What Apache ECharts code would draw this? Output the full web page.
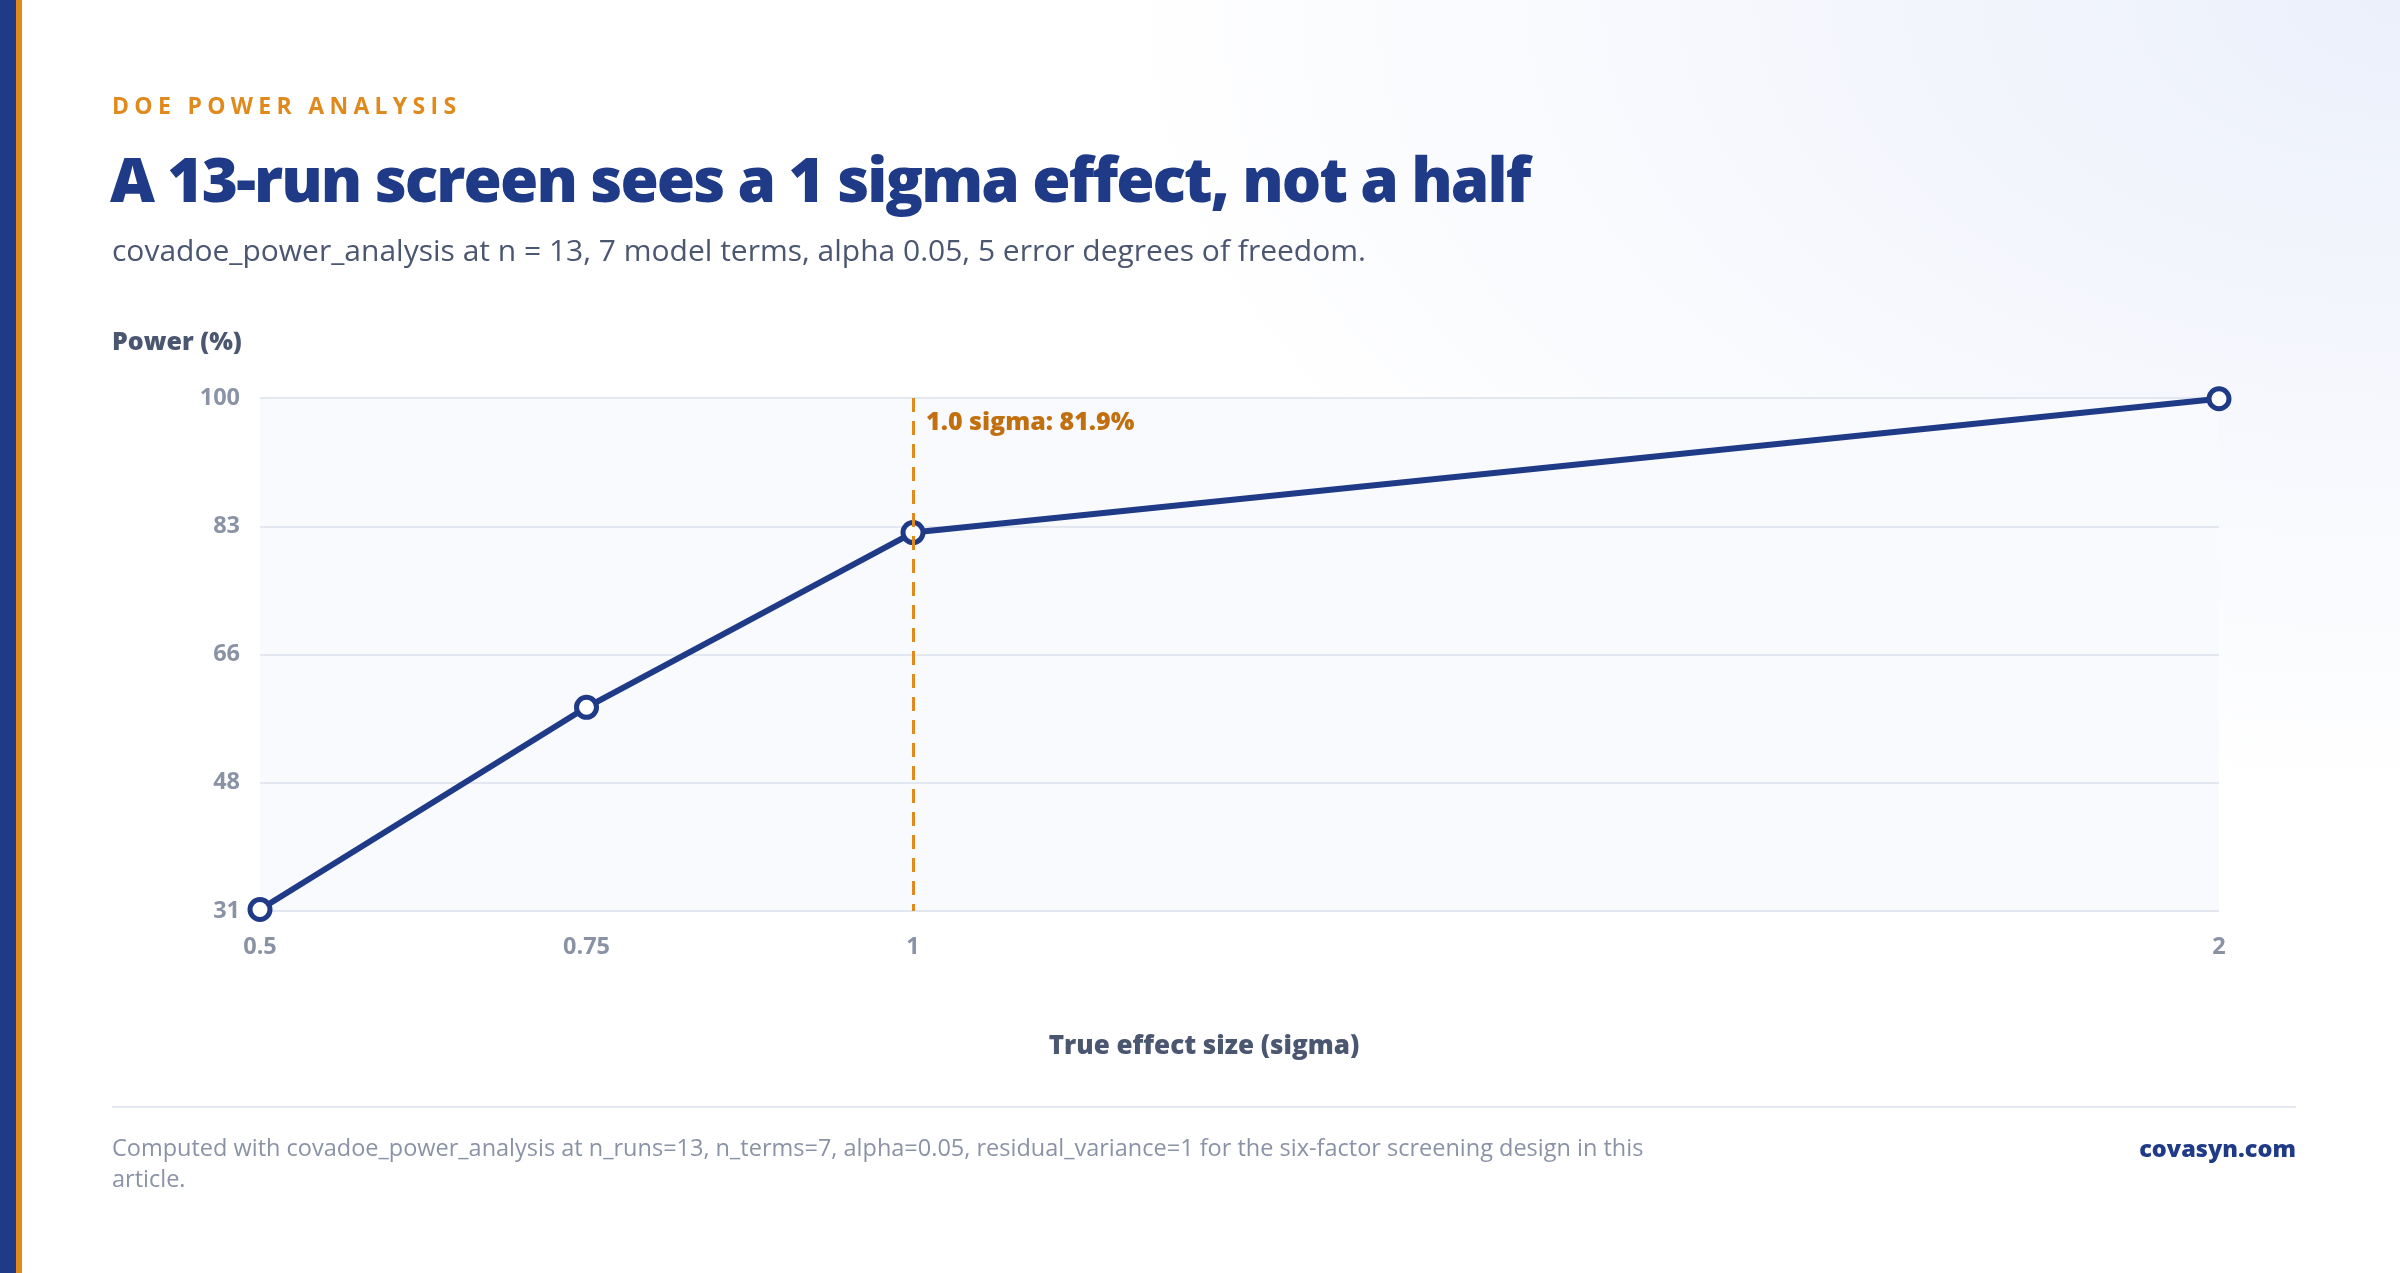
<!DOCTYPE html>
<html><head><meta charset="utf-8">
<script src="https://cdn.jsdelivr.net/npm/echarts@6/dist/echarts.min.js"></script>
<style>
html,body{margin:0;padding:0;width:2400px;height:1273px;overflow:hidden;background:#fff;font-family:"Open Sans","Noto Sans",sans-serif;}
#bg{position:absolute;left:0;top:0;width:2400px;height:1273px;background:radial-gradient(ellipse 1300px 800px at 2400px 0px,#ecf0fb 0%,rgba(255,255,255,0) 100%);}
.sb{position:absolute;left:0;top:0;width:16px;height:1273px;background:#1f3a87}
.so{position:absolute;left:16px;top:0;width:6px;height:1273px;background:#e08a1e}
#chart{position:absolute;left:0;top:0;width:2400px;height:1273px}
.t{position:absolute;white-space:nowrap;}
#eyebrow{left:112px;top:90px;font-size:23px;line-height:30px;font-weight:700;letter-spacing:5.3px;color:#e08a1e}
#title{left:110px;top:138px;font-size:62px;line-height:80px;font-weight:800;letter-spacing:-1.9px;color:#1f3a87}
#sub{left:112px;top:230px;font-size:30px;line-height:40px;color:#4b5670}
#ylab{left:112px;top:324px;font-size:25px;line-height:32px;font-weight:800;color:#4b5670}
#rule{position:absolute;left:112px;top:1106px;width:2184px;height:2px;background:#e3e8f0}
#foot{position:absolute;left:112px;top:1132px;width:1560px;font-size:23.5px;line-height:31px;color:#8a93a6}
#brand{right:104px;top:1132px;font-size:23.5px;line-height:32px;font-weight:800;color:#1f3a87}
</style></head>
<body>
<div id="bg"></div>
<div class="sb"></div><div class="so"></div>
<div id="chart"></div>
<div class="t" id="eyebrow">DOE POWER ANALYSIS</div>
<div class="t" id="title">A 13-run screen sees a 1 sigma effect, not a half</div>
<div class="t" id="sub">covadoe_power_analysis at n = 13, 7 model terms, alpha 0.05, 5 error degrees of freedom.</div>
<div class="t" id="ylab">Power (%)</div>
<div id="rule"></div>
<div id="foot">Computed with covadoe_power_analysis at n_runs=13, n_terms=7, alpha=0.05, residual_variance=1 for the six-factor screening design in this article.</div>
<div class="t" id="brand">covasyn.com</div>
<script>
// Data
const effectSizes = [0.5, 0.75, 1, 2];
const powerPct = [31.2, 58.4, 81.9, 99.9];
const xTickLabels = [0.5, 0.75, 1, 2];
const yMin = 31, yMax = 100, yStep = 17.25;
const highlightX = 1;
const highlightLabel = '1.0 sigma: 81.9%';
const xAxisTitle = 'True effect size (sigma)';

const navy = '#1f3a87', orange = '#e08a1e', gray = '#8a93a6';
const chart = echarts.init(document.getElementById('chart'), null, {renderer:'canvas'});
chart.setOption({
  backgroundColor: 'transparent',
  animation: false,
  grid: {left: 260, right: 181, top: 398, bottom: 362, show: true, backgroundColor: '#f9fafd', borderWidth: 0},
  xAxis: {
    type: 'value', min: 0.5, max: 2, interval: 0.25,
    axisLine: {show: false}, axisTick: {show: false}, splitLine: {show: false},
    axisLabel: {
      color: gray, fontSize: 23.5, fontWeight: 700, margin: 24, fontFamily: 'Open Sans',
      formatter: v => xTickLabels.some(t => Math.abs(t - v) < 1e-9) ? String(v) : ''
    }
  },
  yAxis: {
    type: 'value', min: yMin, max: yMax, interval: yStep,
    axisLine: {show: false}, axisTick: {show: false},
    splitLine: {lineStyle: {color: '#e3e8f0', width: 2}},
    axisLabel: {color: gray, fontSize: 23.5, fontWeight: 700, margin: 20, fontFamily: 'Open Sans',
      formatter: v => String(Math.round(v))}
  },
  series: [{
    type: 'line',
    data: effectSizes.map((x, i) => [x, powerPct[i]]),
    lineStyle: {color: navy, width: 6},
    symbol: 'circle', symbolSize: 20,
    itemStyle: {color: '#fff', borderColor: navy, borderWidth: 5},
    z: 3,
    markLine: {
      silent: true, symbol: 'none', z: 4,
      lineStyle: {color: orange, width: 3, type: [14, 9]},
      label: {show: false},
      data: [[{coord: [highlightX, yMax]}, {coord: [highlightX, yMin]}]]
    },
    markPoint: {
      silent: true, symbol: 'circle', symbolSize: 0,
      data: [{coord: [highlightX, yMax]}],
      label: {show: true, position: 'right', distance: 0, offset: [13, 25],
        formatter: highlightLabel, color: '#c2700f', fontSize: 25, fontWeight: 800, fontFamily: 'Open Sans'}
    }
  }],
  graphic: [{
    type: 'text', x: 1204, y: 1047,
    style: {text: xAxisTitle, fill: '#4b5670', font: '800 26px "Open Sans"', textAlign: 'center', textVerticalAlign: 'middle'}
  }]
});
</script>
</body></html>
